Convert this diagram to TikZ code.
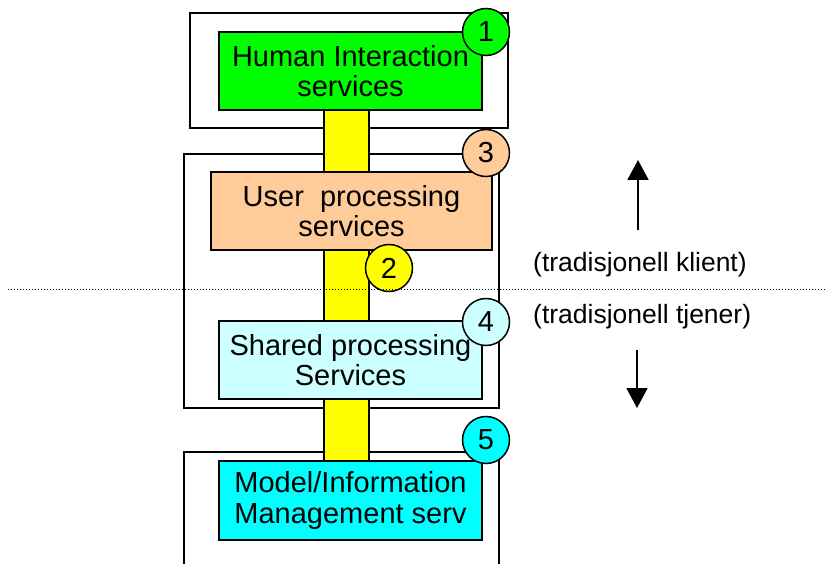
\documentclass[tikz,border=0pt]{standalone}
\usepackage{fontspec}
\setmainfont{Liberation Sans}
\usetikzlibrary{arrows.meta}
\definecolor{hgreen}{HTML}{00FF00}
\definecolor{upeach}{HTML}{FFCC99}
\definecolor{spale}{HTML}{CCFFFF}
\definecolor{mcyan}{HTML}{00FFFF}
\definecolor{byellow}{HTML}{FFFF00}
\tikzset{
  outerbox/.style={draw=black, line width=1.4pt, fill=white},
  layerbox/.style={draw=black, line width=1.4pt, minimum width=263pt, minimum height=78pt,
    inner sep=0pt, align=center, font=\fontsize{29}{30.5}\selectfont},
  badge/.style={circle, draw=black, line width=1.5pt, minimum size=47pt, inner sep=0pt,
    font=\fontsize{29}{30}\selectfont},
  sidelabel/.style={anchor=west, inner sep=0pt, font=\fontsize{26.5}{30}\selectfont},
  tierarrow/.style={-{Triangle[length=20pt,width=21pt]}, line width=2pt}
}
\begin{document}
\begin{tikzpicture}[x=1pt, y=-1pt]
\useasboundingbox (0,0) rectangle (827,564);
% enclosing frames of the tiers
\draw[outerbox] (190,13) rectangle (508,128);
\draw[outerbox] (184,154) rectangle (499,408);
\draw[outerbox] (184,452) rectangle (499,580);
% vertical channel through the layers
\draw[fill=byellow, line width=1.4pt] (324,110) rectangle (369,461);
% service layers
\node[layerbox, fill=hgreen] (hi) at (350.5,71) {Human Interaction\\services};
\node[layerbox, fill=upeach, minimum width=281pt] (up) at (351.5,211) {User~~processing\\services};
\node[layerbox, fill=spale] (sp) at (350.5,360) {Shared processing\\Services};
\node[layerbox, fill=mcyan, minimum height=79pt] (mi) at (350.5,500.5) {Model/Information\\Management serv};
% numbered markers
\node[badge, fill=hgreen] (n1) at (486,32) {1};
\node[badge, fill=upeach] (n3) at (486,153) {3};
\node[badge, fill=byellow] (n2) at (389,268) {2};
\node[badge, fill=spale] (n4) at (486,322) {4};
\node[badge, fill=mcyan] (n5) at (486,440) {5};
% client / server divide
\coordinate (divl) at (8,289);
\coordinate (divr) at (827,289);
\draw[line width=1pt, dotted] (divl) -- (divr);
\node[sidelabel] (kl) at (533,265) {(tradisjonell klient)};
\node[sidelabel] (tj) at (533,317) {(tradisjonell tjener)};
\coordinate (upa) at (638,230);
\coordinate (upb) at (638,160);
\coordinate (dna) at (637,350);
\coordinate (dnb) at (637,408);
\draw[tierarrow] (upa) -- (upb);
\draw[tierarrow] (dna) -- (dnb);
\end{tikzpicture}
\end{document}
